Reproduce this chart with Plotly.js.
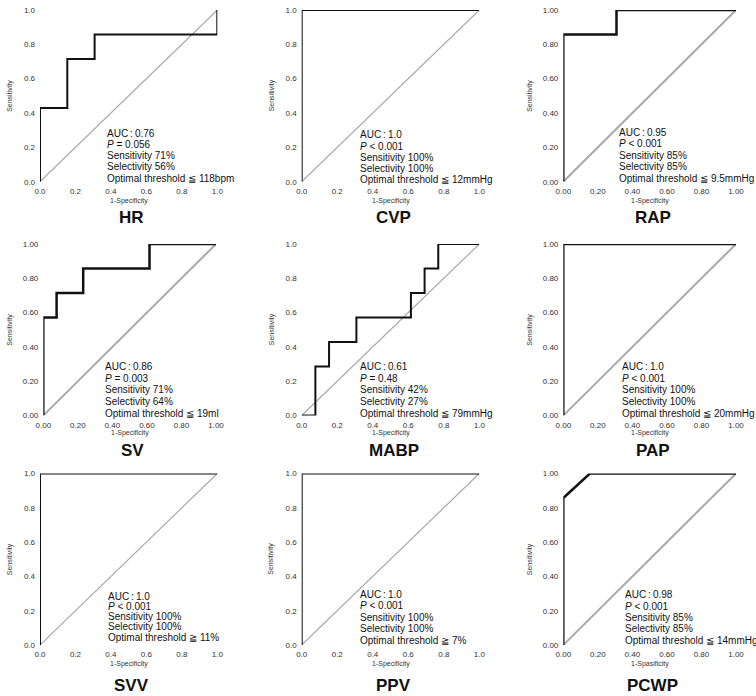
<!DOCTYPE html>
<html>
<head>
<meta charset="utf-8">
<script src="https://cdn.plot.ly/plotly-3.0.1.min.js"></script>
<style>html,body{margin:0;padding:0;background:#fff}#chart{width:756px;height:696px}</style>
</head>
<body>
<div id="chart"></div>
<script>
// ---------- data ----------
const titles = ['HR','CVP','RAP','SV','MABP','PAP','SVV','PPV','PCWP'];
const hrFPR   = [0, 0, 0.154, 0.154, 0.308, 0.308, 1.0, 1.0];
const hrTPR   = [0, 0.429, 0.429, 0.714, 0.714, 0.857, 0.857, 1.0];
const cvpFPR  = [0, 0, 1.0];
const cvpTPR  = [0, 1.0, 1.0];
const rapFPR  = [0, 0, 0.308, 0.308, 1.0];
const rapTPR  = [0, 0.857, 0.857, 1.0, 1.0];
const svFPR   = [0, 0, 0.077, 0.077, 0.231, 0.231, 0.615, 0.615, 1.0];
const svTPR   = [0, 0.571, 0.571, 0.714, 0.714, 0.857, 0.857, 1.0, 1.0];
const mabpFPR = [0, 0.077, 0.077, 0.154, 0.154, 0.308, 0.308, 0.615, 0.615, 0.692, 0.692, 0.769, 0.769, 1.0];
const mabpTPR = [0, 0, 0.286, 0.286, 0.429, 0.429, 0.571, 0.571, 0.714, 0.714, 0.857, 0.857, 1.0, 1.0];
const papFPR  = [0, 0, 1.0];
const papTPR  = [0, 1.0, 1.0];
const svvFPR  = [0, 0, 1.0];
const svvTPR  = [0, 1.0, 1.0];
const ppvFPR  = [0, 0, 1.0];
const ppvTPR  = [0, 1.0, 1.0];
const pcwpFPR = [0, 0, 0.154, 1.0];
const pcwpTPR = [0, 0.857, 1.0, 1.0];
const chanceX = [0, 1];
const chanceY = [0, 1];

const aucValues   = ['0.76','1.0','0.95','0.86','0.61','1.0','1.0','1.0','0.98'];
const pValues     = ['= 0.056','&lt; 0.001','&lt; 0.001','= 0.003','= 0.48','&lt; 0.001','&lt; 0.001','&lt; 0.001','&lt; 0.001'];
const sensitivity = [71, 100, 85, 71, 42, 100, 100, 100, 85];
const selectivity = [56, 100, 85, 64, 27, 100, 100, 100, 85];
const thresholds  = ['\u2266 118bpm','\u2266 12mmHg','\u2266 9.5mmHg','\u2266 19ml','\u2266 79mmHg','\u2266 20mmHg','\u2267 11%','\u2267 7%','\u2266 14mmHg'];
const xTitles     = ['1-Specificity','1-Specificity','1-Specificity','1-Specificity','1-Specificity','1-Specificity','1-Specificity','1-Specificity','1-Spasificity'];
const yTitle      = 'Sensitivity';
const tickValues  = [0, 0.2, 0.4, 0.6, 0.8, 1.0];

const rocX = [hrFPR, cvpFPR, rapFPR, svFPR, mabpFPR, papFPR, svvFPR, ppvFPR, pcwpFPR];
const rocY = [hrTPR, cvpTPR, rapTPR, svTPR, mabpTPR, papTPR, svvTPR, ppvTPR, pcwpTPR];

// ---------- layout / style (pixels) ----------
const W = 756, H = 696;
const FONT = 'Liberation Sans, Arial, Helvetica, sans-serif';
const colPx = [[40, 217.3], [301.7, 479.3], [563.3, 736]];
const rowPx = [[10, 181.7], [244, 415.5], [473.5, 645]];
const titleY = [218, 450, 685];
const xTitleY = [201, 433.5, 663.5];
const yTitleX = [10, 271.5, 530];
const decimals = [1, 1, 2, 2, 1, 2, 1, 1, 2];
const rocWidth = [2, 2, 2.5, 2.5, 2, 2.5, 2, 2, 2.5];
const diagWidth = [1.2, 1.2, 2, 2, 1.2, 2, 1.2, 1.2, 2];
const textX = [105, 358.3, 616.7, 103.3, 358.3, 620, 106, 358.3, 623.3];
const textBottomOff = [3.4, 1.7, 3.4, 2.3, 2.3, 2.3, 8, 5, 5];
const lineGap = [11.3, 11.3, 11.5, 11.7, 11.7, 11.7, 10.2, 11.4, 11.3];

const px2x = p => p / W;
const px2y = p => 1 - p / H;

const traces = [];
const layout = {
  width: W, height: H,
  margin: {l: 0, r: 0, t: 0, b: 0},
  paper_bgcolor: '#fff', plot_bgcolor: '#fff',
  showlegend: false,
  font: {family: FONT, color: '#222'},
  annotations: []
};

titles.forEach((name, i) => {
  const r = Math.floor(i / 3), c = i % 3;
  let cx = colPx[c];
  if (i === 3) cx = [43.3, 216];
  const ry = rowPx[r];
  const n = i + 1;
  const xa = 'x' + (n === 1 ? '' : n), ya = 'y' + (n === 1 ? '' : n);
  const xk = 'xaxis' + (n === 1 ? '' : n), yk = 'yaxis' + (n === 1 ? '' : n);

  traces.push({
    x: chanceX, y: chanceY, xaxis: xa, yaxis: ya, mode: 'lines',
    line: {color: '#a9a9a9', width: diagWidth[i]}, cliponaxis: false, hoverinfo: 'skip'
  });
  traces.push({
    x: rocX[i], y: rocY[i], xaxis: xa, yaxis: ya, mode: 'lines',
    line: {color: '#111', width: rocWidth[i]}, cliponaxis: false, hoverinfo: 'skip'
  });

  const tt = tickValues.map(v => v.toFixed(decimals[i]));
  const axCommon = {
    range: [0, 1], showgrid: false, zeroline: false, showline: false, ticks: '',
    tickvals: tickValues, ticktext: tt,
    tickfont: {size: 8, color: '#333', family: FONT}, fixedrange: true
  };
  layout[xk] = Object.assign({}, axCommon, {domain: [px2x(cx[0]), px2x(cx[1])], anchor: ya, ticklabelstandoff: 3});
  layout[yk] = Object.assign({}, axCommon, {domain: [px2y(ry[1]), px2y(ry[0])], anchor: xa, ticklabelstandoff: 4});

  // panel title
  layout.annotations.push({
    text: '<b>' + name + '</b>', xref: 'paper', yref: 'paper',
    x: px2x((cx[0] + cx[1]) / 2 + 3), y: px2y(titleY[r]), xanchor: 'center', yanchor: 'middle',
    showarrow: false, font: {size: 17, color: '#111', family: FONT}
  });
  // axis titles
  layout.annotations.push({
    text: xTitles[i], xref: 'paper', yref: 'paper',
    x: px2x((cx[0] + cx[1]) / 2), y: px2y(xTitleY[r]), xanchor: 'center', yanchor: 'middle',
    showarrow: false, font: {size: 7, color: '#333', family: FONT}
  });
  layout.annotations.push({
    text: yTitle, xref: 'paper', yref: 'paper', textangle: -90,
    x: px2x(yTitleX[c]), y: px2y((ry[0] + ry[1]) / 2), xanchor: 'center', yanchor: 'middle',
    showarrow: false, font: {size: 7, color: '#333', family: FONT}
  });
  // stats text
  const lines = [
    'AUC\u2009:\u2009' + aucValues[i],
    '<i>P</i> ' + pValues[i],
    'Sensitivity ' + sensitivity[i] + '%',
    'Selectivity ' + selectivity[i] + '%',
    'Optimal threshold ' + thresholds[i]
  ];
  const bottom = ry[1] - textBottomOff[i];
  lines.forEach((t, k) => {
    const yy = bottom - (lines.length - 1 - k) * lineGap[i];
    layout.annotations.push({
      text: t, xref: 'paper', yref: 'paper',
      x: px2x(textX[i]), y: px2y(yy), xanchor: 'left', yanchor: 'middle',
      showarrow: false, font: {size: 10, color: '#111', family: FONT}
    });
  });
});

Plotly.newPlot('chart', traces, layout, {staticPlot: true, displayModeBar: false});
</script>
</body>
</html>
